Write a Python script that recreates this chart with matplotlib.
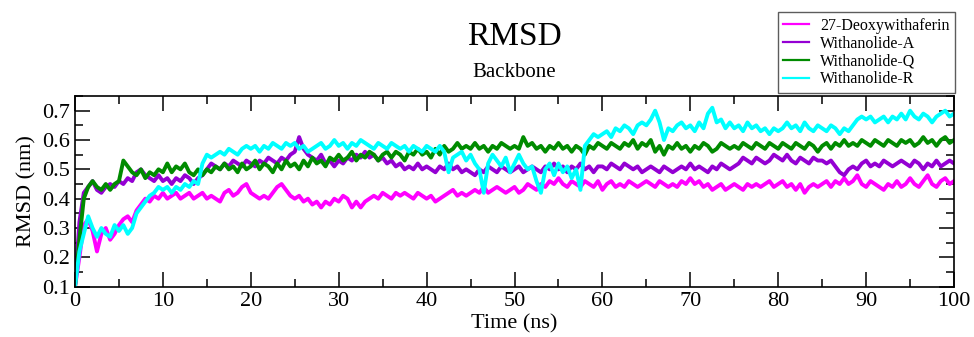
import numpy as np
import matplotlib
matplotlib.use("Agg")
import matplotlib.pyplot as plt

plt.rcParams['font.family'] = ['Liberation Serif', 'DejaVu Serif']

deoxywithaferin = [
    0.10, 0.20, 0.31, 0.33, 0.29, 0.22, 0.28, 0.30, 0.26, 0.28,
    0.31, 0.33, 0.34, 0.32, 0.36, 0.38, 0.40, 0.39, 0.41, 0.40,
    0.42, 0.40, 0.41, 0.42, 0.40, 0.41, 0.42, 0.40, 0.41, 0.42,
    0.40, 0.41, 0.40, 0.39, 0.42, 0.43, 0.41, 0.42, 0.44, 0.45,
    0.42, 0.41, 0.40, 0.41, 0.40, 0.42, 0.44, 0.45, 0.43, 0.41,
    0.40, 0.41, 0.39, 0.40, 0.38, 0.39, 0.37, 0.39, 0.38, 0.40,
    0.39, 0.41, 0.40, 0.37, 0.39, 0.37, 0.39, 0.40, 0.41, 0.40,
    0.42, 0.41, 0.40, 0.42, 0.41, 0.42, 0.41, 0.40, 0.42, 0.41,
    0.40, 0.41, 0.39, 0.40, 0.41, 0.42, 0.43, 0.41, 0.42, 0.41,
    0.42, 0.43, 0.42, 0.44, 0.42, 0.43, 0.44, 0.43, 0.42, 0.43,
    0.44, 0.42, 0.43, 0.45, 0.44, 0.43, 0.45, 0.44, 0.46, 0.45,
    0.47, 0.45, 0.44, 0.46, 0.45, 0.44, 0.46, 0.45, 0.44, 0.46,
    0.43, 0.45, 0.46, 0.44, 0.45, 0.44, 0.46, 0.45, 0.44, 0.45,
    0.46, 0.45, 0.44, 0.46, 0.45, 0.44, 0.45, 0.44, 0.46, 0.45,
    0.47, 0.45, 0.46, 0.44, 0.45, 0.43, 0.44, 0.45, 0.43, 0.44,
    0.45, 0.44, 0.43, 0.45, 0.44, 0.45, 0.44, 0.45, 0.46, 0.44,
    0.45, 0.46, 0.44, 0.45, 0.43, 0.45, 0.42, 0.44, 0.45, 0.44,
    0.45, 0.46, 0.44, 0.46, 0.45, 0.47, 0.45, 0.46, 0.48, 0.45,
    0.44, 0.46, 0.45, 0.44, 0.43, 0.45, 0.44, 0.46, 0.44, 0.45,
    0.47, 0.45, 0.44, 0.46, 0.48, 0.45, 0.44, 0.46, 0.47, 0.45,
    0.46,
]

withanolide_a = [
    0.10, 0.32, 0.42, 0.44, 0.46, 0.43, 0.42, 0.44, 0.45, 0.44,
    0.46, 0.45, 0.47, 0.46, 0.49, 0.50, 0.48, 0.47, 0.46, 0.48,
    0.46, 0.47, 0.45, 0.47, 0.46, 0.48, 0.47, 0.45, 0.47, 0.48,
    0.50, 0.52, 0.51, 0.50, 0.52, 0.51, 0.53, 0.52, 0.51, 0.53,
    0.52, 0.51, 0.53, 0.52, 0.54, 0.53, 0.52, 0.54, 0.53, 0.55,
    0.56, 0.61, 0.57, 0.55, 0.54, 0.53, 0.55, 0.52, 0.53, 0.51,
    0.53, 0.52, 0.54, 0.53, 0.55, 0.54, 0.56, 0.54, 0.55, 0.53,
    0.54, 0.52, 0.53, 0.51, 0.52, 0.50, 0.51, 0.50, 0.52, 0.50,
    0.51, 0.50, 0.49, 0.51, 0.50, 0.52, 0.50, 0.51, 0.49, 0.50,
    0.49, 0.48, 0.50, 0.49, 0.51, 0.50, 0.49, 0.51, 0.50, 0.49,
    0.50, 0.51, 0.49, 0.50, 0.51, 0.50, 0.49, 0.51, 0.50, 0.52,
    0.50, 0.51, 0.49, 0.51, 0.50, 0.52, 0.50, 0.51, 0.49, 0.51,
    0.51, 0.50, 0.52, 0.51, 0.50, 0.52, 0.51, 0.50, 0.51, 0.49,
    0.50, 0.51, 0.50, 0.49, 0.51, 0.50, 0.49, 0.50, 0.51, 0.50,
    0.52, 0.50, 0.51, 0.50, 0.49, 0.51, 0.50, 0.52, 0.51, 0.50,
    0.51, 0.52, 0.54, 0.53, 0.52, 0.54, 0.53, 0.52, 0.53, 0.55,
    0.54, 0.53, 0.55, 0.53, 0.52, 0.54, 0.53, 0.52, 0.54, 0.53,
    0.53, 0.52, 0.53, 0.51, 0.49, 0.48, 0.50, 0.51, 0.50, 0.52,
    0.53, 0.51, 0.52, 0.51, 0.53, 0.52, 0.51, 0.52, 0.53, 0.52,
    0.51, 0.53, 0.52, 0.50, 0.52, 0.51, 0.53, 0.51, 0.52, 0.53,
    0.52,
]

withanolide_q = [
    0.10, 0.26, 0.40, 0.44, 0.46, 0.44, 0.43, 0.45, 0.43, 0.45,
    0.46, 0.53, 0.51, 0.49, 0.48, 0.50, 0.47, 0.49, 0.48, 0.50,
    0.49, 0.52, 0.49, 0.51, 0.50, 0.52, 0.49, 0.48, 0.50, 0.48,
    0.50, 0.49, 0.51, 0.50, 0.52, 0.50, 0.51, 0.49, 0.52, 0.50,
    0.51, 0.53, 0.50, 0.52, 0.51, 0.49, 0.52, 0.50, 0.53, 0.51,
    0.52, 0.50, 0.53, 0.51, 0.54, 0.52, 0.53, 0.51, 0.54, 0.53,
    0.55, 0.53, 0.54, 0.56, 0.53, 0.55, 0.54, 0.56, 0.55, 0.53,
    0.55, 0.56, 0.54, 0.56, 0.55, 0.53, 0.56, 0.55, 0.57, 0.55,
    0.56, 0.54, 0.57, 0.55, 0.58, 0.56, 0.57, 0.59, 0.57, 0.58,
    0.57, 0.59, 0.57, 0.58, 0.56, 0.58, 0.57, 0.59, 0.58, 0.57,
    0.58, 0.57, 0.61, 0.58, 0.59, 0.57, 0.58, 0.56, 0.58, 0.57,
    0.59, 0.57, 0.58, 0.56, 0.58, 0.57, 0.55, 0.58, 0.57, 0.59,
    0.58, 0.57, 0.59, 0.58, 0.57, 0.59, 0.58, 0.60, 0.57, 0.59,
    0.58, 0.60, 0.56, 0.58, 0.55, 0.58, 0.57, 0.59, 0.57, 0.58,
    0.56, 0.58, 0.57, 0.59, 0.58, 0.56, 0.57, 0.59, 0.58, 0.57,
    0.58, 0.57, 0.59, 0.58, 0.57, 0.59, 0.58, 0.57, 0.59, 0.58,
    0.57, 0.59, 0.58, 0.57, 0.59, 0.58, 0.57, 0.59, 0.58, 0.56,
    0.58, 0.59, 0.57, 0.59, 0.58, 0.60, 0.58, 0.59, 0.58, 0.60,
    0.59, 0.58, 0.60, 0.59, 0.58, 0.60, 0.59, 0.58, 0.60, 0.59,
    0.60, 0.58, 0.59, 0.61, 0.59, 0.60, 0.58, 0.60, 0.61, 0.59,
    0.60,
]

withanolide_r = [
    0.10, 0.22, 0.28, 0.34, 0.30, 0.27, 0.30, 0.28, 0.27, 0.31,
    0.29, 0.31, 0.28, 0.30, 0.35, 0.37, 0.39, 0.41, 0.42, 0.44,
    0.43, 0.44, 0.42, 0.44, 0.43, 0.45, 0.44, 0.46, 0.45, 0.52,
    0.55, 0.54, 0.55, 0.56, 0.55, 0.57, 0.56, 0.55, 0.57, 0.58,
    0.57, 0.58, 0.56, 0.58, 0.57, 0.59, 0.58, 0.57, 0.59, 0.58,
    0.59, 0.57, 0.58, 0.56, 0.57, 0.58, 0.59, 0.57, 0.58, 0.60,
    0.58, 0.59, 0.57, 0.59, 0.58, 0.60, 0.59, 0.58, 0.57, 0.59,
    0.58, 0.57, 0.59, 0.58, 0.57, 0.58, 0.56, 0.58, 0.57, 0.56,
    0.58, 0.57, 0.56, 0.58, 0.56, 0.49, 0.54, 0.55, 0.56, 0.53,
    0.55, 0.52, 0.50, 0.42, 0.52, 0.55, 0.53, 0.51, 0.54, 0.49,
    0.52, 0.55, 0.52, 0.50, 0.51, 0.46, 0.42, 0.50, 0.52, 0.48,
    0.52, 0.49, 0.51, 0.47, 0.50, 0.43, 0.58, 0.60, 0.62, 0.61,
    0.62, 0.63, 0.61, 0.64, 0.63, 0.65, 0.64, 0.62, 0.65, 0.66,
    0.65, 0.67, 0.70, 0.66, 0.60, 0.64, 0.63, 0.65, 0.66, 0.64,
    0.65, 0.63, 0.66, 0.64, 0.69, 0.71, 0.66, 0.67, 0.64, 0.66,
    0.64, 0.65, 0.63, 0.66, 0.64, 0.65, 0.63, 0.64, 0.62, 0.64,
    0.63, 0.64, 0.66, 0.64, 0.65, 0.63, 0.66, 0.64, 0.63, 0.65,
    0.64, 0.63, 0.65, 0.64, 0.62, 0.64, 0.63, 0.65, 0.67, 0.68,
    0.67, 0.68, 0.66, 0.67, 0.68, 0.66, 0.68, 0.67, 0.69, 0.67,
    0.70, 0.68, 0.67, 0.69, 0.68, 0.66, 0.68, 0.69, 0.70, 0.68,
    0.69,
]

labels = ["27-Deoxywithaferin", "Withanolide-A", "Withanolide-Q", "Withanolide-R"]
colors = ["#ff00ff", "#9400d3", "#008b00", "#00ffff"]

time = np.linspace(0, 100, len(deoxywithaferin))

fig = plt.figure(figsize=(9.74, 3.37), dpi=100)
ax = fig.add_axes([0.077, 0.1493, 0.9025, 0.5658])

for ys, lab, col in zip([deoxywithaferin, withanolide_a, withanolide_q, withanolide_r], labels, colors):
    ax.plot(time, ys, color=col, lw=2.8, label=lab, solid_joinstyle='round')

ax.set_xlim(0, 100)
ax.set_ylim(0.1, 0.75)
ax.set_xticks(np.arange(0, 101, 10))
ax.set_xticks(np.arange(0, 101, 5), minor=True)
ax.set_yticks([0.1, 0.2, 0.3, 0.4, 0.5, 0.6, 0.7])
ax.set_yticks(np.arange(0.1, 0.751, 0.05), minor=True)
ax.tick_params(which='both', direction='in', top=True, right=True, labelsize=16, width=1.1)
ax.tick_params(which='major', length=11)
ax.tick_params(which='minor', length=5.5)
for sp in ax.spines.values():
    sp.set_linewidth(1.2)
    sp.set_zorder(5)

ax.set_xlabel("Time (ns)", fontsize=16, labelpad=3)
ax.set_ylabel("RMSD (nm)", fontsize=16, labelpad=4)

fig.text(0.528, 0.89, "RMSD", ha='center', va='center', fontsize=24)
fig.text(0.528, 0.785, "Backbone", ha='center', va='center', fontsize=15)

leg = ax.legend(loc='upper right', bbox_to_anchor=(955 / 974, 1 - 12 / 337),
                bbox_transform=fig.transFigure, fontsize=11.5, frameon=True,
                fancybox=False, handlelength=1.6, handletextpad=0.7,
                labelspacing=0.12, borderpad=0.35, borderaxespad=0)
leg.get_frame().set_edgecolor('#333333')
leg.get_frame().set_linewidth(1.0)
for line in leg.get_lines():
    line.set_linewidth(1.6)

fig.savefig("out.png", dpi=100)
